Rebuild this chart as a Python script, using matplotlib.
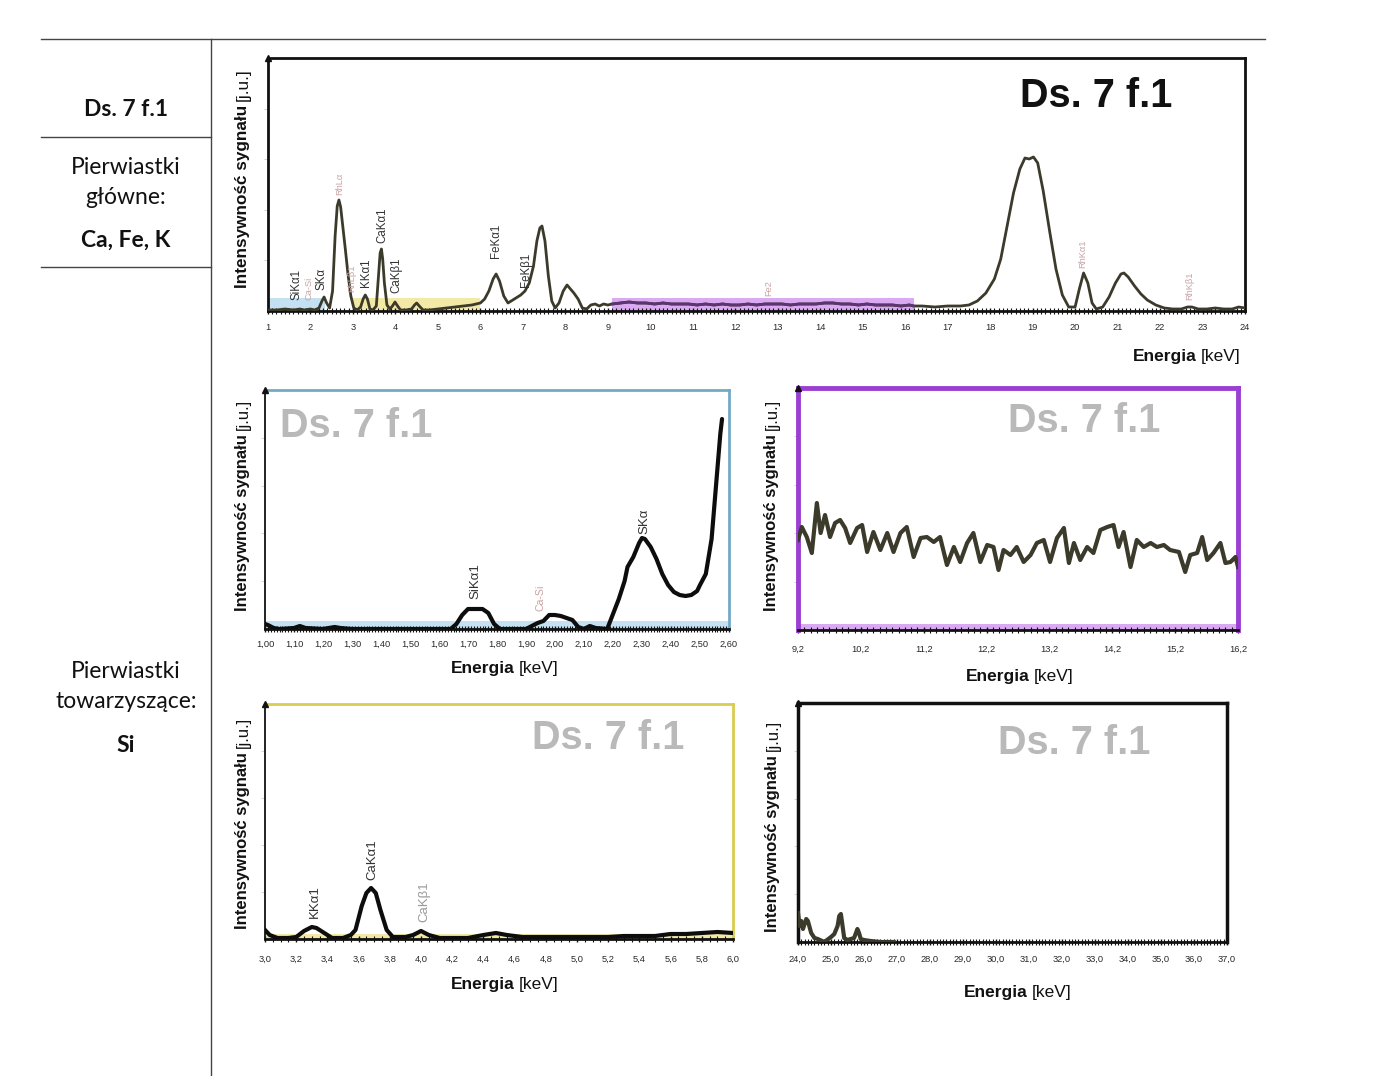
import numpy as np
import matplotlib
matplotlib.use("Agg")
import matplotlib.pyplot as plt
from matplotlib.lines import Line2D
from matplotlib.ticker import MultipleLocator, NullFormatter

# ---------------- data ----------------
# main spectrum 1-24 keV (intensity in arbitrary units)
top_E = [1.0, 1.2, 1.4, 1.6, 1.75, 1.85, 2.0, 2.1, 2.2, 2.27, 2.32, 2.38, 2.45, 2.52, 2.58, 2.63,
         2.67, 2.71, 2.76, 2.82, 2.88, 2.95, 3.02, 3.1, 3.18, 3.24, 3.29, 3.34, 3.4, 3.47, 3.55,
         3.6, 3.64, 3.67, 3.7, 3.74, 3.8, 3.87, 3.93, 3.99, 4.05, 4.12, 4.25, 4.38, 4.45, 4.5,
         4.56, 4.65, 4.8, 5.0, 5.2, 5.4, 5.6, 5.8, 6.0, 6.1, 6.2, 6.3, 6.37, 6.45, 6.55, 6.65,
         6.8, 6.95, 7.05, 7.15, 7.25, 7.33, 7.4, 7.45, 7.52, 7.6, 7.68, 7.76, 7.85, 7.95, 8.04,
         8.12, 8.2, 8.3, 8.4, 8.5, 8.6, 8.7, 8.8, 8.9, 9.0,
         9.1, 9.3, 9.5, 9.7, 9.9, 10.1, 10.3, 10.5, 10.7, 10.9, 11.1, 11.3, 11.5, 11.7, 11.9,
         12.1, 12.3, 12.5, 12.7, 12.9, 13.1, 13.3, 13.5, 13.7, 13.9, 14.1, 14.3, 14.5, 14.7,
         14.9, 15.1, 15.3, 15.5, 15.7, 15.9, 16.1, 16.2,
         16.4, 16.7, 17.0, 17.3, 17.5, 17.7, 17.9, 18.1, 18.25, 18.4, 18.55, 18.7, 18.82, 18.92,
         19.02, 19.12, 19.25, 19.4, 19.55, 19.7, 19.85, 20.0, 20.1, 20.2, 20.3, 20.4, 20.5, 20.65,
         20.8, 20.95, 21.08, 21.15, 21.25, 21.4, 21.55, 21.7, 21.9, 22.1, 22.3, 22.5, 22.65,
         22.75, 22.9, 23.1, 23.3, 23.5, 23.7, 23.85, 24.0]
top_I = [1, 1, 2, 1, 2, 1, 2, 1, 3, 10, 14, 8, 3, 20, 75, 105,
         111, 104, 85, 62, 38, 15, 3, 1, 4, 12, 16, 12, 2, 1, 5,
         35, 58, 62, 52, 28, 6, 2, 5, 9, 5, 1, 1, 2, 6, 8,
         5, 1, 1, 2, 3, 4, 5, 6, 8, 12, 20, 32, 37, 30, 15, 8,
         12, 16, 20, 28, 45, 70, 83, 85, 70, 35, 10, 3, 8, 20, 26,
         22, 18, 12, 3, 2, 6, 7, 5, 7, 6,
         7, 8, 9, 8, 8, 7, 8, 7, 7, 7, 6, 7, 6, 7, 6,
         6, 7, 6, 7, 7, 7, 6, 7, 7, 7, 8, 8, 7, 7,
         6, 7, 6, 6, 6, 5, 6, 5,
         5, 4, 5, 5, 6, 10, 18, 32, 52, 85, 118, 142, 153, 152,
         154, 148, 120, 80, 42, 16, 4, 4, 22, 38, 28, 8, 2, 4,
         14, 28, 37, 38, 34, 25, 17, 11, 6, 3, 2, 2, 4,
         4, 2, 2, 3, 2, 2, 4, 3]
top_ticks = list(range(1, 25))
top_labels = ["SiKα1", "Ca-Si", "SKα", "RhLα", "RhLβ1", "KKα1", "CaKα1", "CaKβ1",
              "FeKα1", "FeKβ1", "Fe2", "RhKα1", "RhKβ1"]
top_label_E = [1.66, 1.97, 2.27, 2.70, 2.96, 3.31, 3.69, 4.02, 6.37, 7.08, 12.8, 20.18, 22.7]
top_label_y = [11, 11, 21, 116, 19, 24, 68, 18, 53, 24, 15, 43, 11]
top_label_kind = ["el", "rh", "el", "rh", "rh", "el", "el", "el", "el", "el", "rh", "rh", "rh"]
band_ranges = [(1.0, 2.35), (3.0, 6.0), (9.1, 16.2)]

# zoom 1.00-2.60 keV
blue_E = [1.00, 1.01, 1.03, 1.05, 1.10, 1.12, 1.14, 1.20, 1.24, 1.26, 1.30, 1.50, 1.64, 1.66,
          1.68, 1.70, 1.75, 1.77, 1.79, 1.81, 1.90, 1.92, 1.94, 1.96, 1.98, 2.00, 2.02, 2.04,
          2.06, 2.08, 2.10, 2.12, 2.14, 2.18, 2.20, 2.22, 2.24, 2.25, 2.27, 2.29, 2.30, 2.31,
          2.33, 2.35, 2.37, 2.39, 2.41, 2.43, 2.45, 2.47, 2.49, 2.50, 2.52, 2.54, 2.55, 2.56,
          2.57, 2.576]
blue_I = [5, 4, 1, 0, 1, 3, 1, 0, 2, 1, 0, 0, 0, 5,
          14, 20, 20, 16, 5, 0, 0, 3, 6, 8, 14, 14, 13, 11,
          9, 2, 0, 3, 1, 0, 15, 30, 48, 62, 72, 86, 91, 90,
          82, 70, 55, 44, 37, 34, 33, 34, 38, 44, 55, 90, 125, 160,
          195, 210]
blue_ticks = [1.0, 1.1, 1.2, 1.3, 1.4, 1.5, 1.6, 1.7, 1.8, 1.9, 2.0, 2.1, 2.2, 2.3, 2.4, 2.5, 2.6]
blue_labels = ["SiKα1", "Ca-Si", "SKα"]
blue_label_E = [1.727, 1.949, 2.309]
blue_label_y = [30, 18, 95]
blue_label_kind = ["el", "rh", "el"]

# zoom 9.2-16.2 keV
purple_E = [9.20, 9.26, 9.34, 9.42, 9.50, 9.56, 9.63, 9.71, 9.79, 9.87, 9.95, 10.03, 10.14,
            10.22, 10.30, 10.40, 10.51, 10.62, 10.72, 10.83, 10.93, 11.04, 11.15, 11.25, 11.36,
            11.46, 11.57, 11.68, 11.78, 11.89, 11.99, 12.10, 12.21, 12.31, 12.39, 12.47, 12.58,
            12.68, 12.79, 12.90, 13.00, 13.11, 13.21, 13.32, 13.43, 13.51, 13.59, 13.69, 13.80,
            13.90, 14.01, 14.12, 14.22, 14.30, 14.38, 14.49, 14.59, 14.70, 14.81, 14.91, 15.02,
            15.12, 15.26, 15.36, 15.44, 15.55, 15.63, 15.71, 15.81, 15.92, 16.00, 16.08, 16.16,
            16.20]
purple_I = [90, 103, 93, 77, 127, 97, 115, 93, 107, 110, 102, 87, 102,
            105, 78, 98, 80, 97, 78, 97, 103, 73, 92, 93, 88,
            93, 65, 83, 68, 87, 97, 68, 85, 83, 60, 80, 75,
            83, 68, 75, 87, 90, 68, 92, 102, 67, 87, 70, 83,
            77, 100, 103, 105, 83, 98, 63, 90, 83, 87, 83, 85,
            80, 78, 58, 75, 77, 93, 70, 77, 87, 67, 68, 73,
            63]
purple_ticks = [9.2, 10.2, 11.2, 12.2, 13.2, 14.2, 15.2, 16.2]

# zoom 3.0-6.0 keV
yellow_E = [3.00, 3.03, 3.08, 3.15, 3.20, 3.25, 3.30, 3.33, 3.38, 3.43, 3.50, 3.55, 3.58, 3.62,
            3.65, 3.68, 3.71, 3.74, 3.78, 3.82, 3.90, 3.95, 4.00, 4.05, 4.12, 4.20, 4.30, 4.40,
            4.48, 4.55, 4.65, 4.80, 5.00, 5.20, 5.30, 5.50, 5.60, 5.70, 5.80, 5.90, 6.00]
yellow_I = [9, 4, 1, 1, 2, 8, 12, 11, 6, 1, 1, 4, 9, 33,
            46, 51, 46, 29, 9, 2, 2, 4, 8, 4, 1, 1, 1, 4,
            6, 4, 2, 2, 2, 2, 3, 3, 5, 5, 6, 7, 6]
yellow_ticks = [3.0, 3.2, 3.4, 3.6, 3.8, 4.0, 4.2, 4.4, 4.6, 4.8, 5.0, 5.2, 5.4, 5.6, 5.8, 6.0]
yellow_labels = ["KKα1", "CaKα1", "CaKβ1"]
yellow_label_E = [3.32, 3.69, 4.02]
yellow_label_y = [21, 59, 17]
yellow_label_kind = ["el", "el", "grey"]

# zoom 24-37 keV
black_E = [24.0, 24.05, 24.1, 24.15, 24.25, 24.3, 24.4, 24.5, 24.6, 24.8, 25.0, 25.1, 25.2,
           25.25, 25.3, 25.35, 25.4, 25.5, 25.7, 25.8, 25.85, 25.9, 26.0, 26.2, 26.5, 26.9]
black_I = [29, 16, 21, 13, 23, 21, 9, 4, 3, 0, 5, 8, 16,
           26, 28, 16, 4, 2, 4, 13, 9, 3, 2, 1, 0, 0]
black_ticks = list(range(24, 38))

# ---------------- styling ----------------
W, H = 1400, 1076
fig = plt.figure(figsize=(W / 100, H / 100), dpi=100)
SANS = ["Liberation Sans", "DejaVu Sans"]
LEFT = ["Lato", "DejaVu Sans"]
SPEC = "#3c3a2b"
PINK = "#c9a3a3"
GREY_T = "#b9b9b9"
kind_color = {"el": "#333333", "rh": PINK, "grey": "#9a9a9a"}


def ax_px(x0, y0, x1, y1):
    return fig.add_axes([x0 / W, 1 - y1 / H, (x1 - x0) / W, (y1 - y0) / H])


def hline(x0, x1, y, **kw):
    fig.add_artist(Line2D([x0 / W, x1 / W], [1 - y / H, 1 - y / H],
                          transform=fig.transFigure, **kw))


def vline(x, y0, y1, **kw):
    fig.add_artist(Line2D([x / W, x / W], [1 - y0 / H, 1 - y1 / H],
                          transform=fig.transFigure, **kw))


renderer = fig.canvas.get_renderer()


def two_part(x, y, bold, reg, size, rot=0, align="center"):
    t1 = fig.text(0, 0, bold, fontsize=size, fontweight="bold", family=SANS, color="#111111",
                  rotation=rot, ha="left" if rot == 0 else "center",
                  va="center" if rot == 0 else "bottom")
    t2 = fig.text(0, 0, reg, fontsize=size, family=SANS, color="#111111",
                  rotation=rot, ha="left" if rot == 0 else "center",
                  va="center" if rot == 0 else "bottom")
    b1 = t1.get_window_extent(renderer)
    b2 = t2.get_window_extent(renderer)
    gap = size * 0.33
    yf = H - y
    if rot == 0:
        total = b1.width + gap + b2.width
        start = x - total / 2 if align == "center" else x - total
        t1.set_position((start / W, yf / H))
        t2.set_position(((start + b1.width + gap) / W, yf / H))
    else:
        total = b1.height + gap + b2.height
        start = yf - total / 2
        t1.set_position((x / W, start / H))
        t2.set_position((x / W, (start + b1.height + gap) / H))


def style_axes(ax, xlim, ylim, ticks, fmt, frame_color, frame_lw, minor, left_color="#111111",
               pad=5):
    ax.set_xlim(*xlim)
    ax.set_ylim(*ylim)
    ax.set_xticks(ticks)
    ax.set_xticklabels([fmt(t) for t in ticks], fontsize=6.7, family=SANS, color="#2a2a2a")
    ax.xaxis.set_minor_locator(MultipleLocator(minor))
    ax.tick_params(axis="x", which="major", direction="inout", length=5, width=1.0,
                   color="#111111", pad=pad)
    ax.tick_params(axis="x", which="minor", direction="inout", length=4, width=0.8,
                   color="#111111")
    ax.set_yticks(np.linspace(ylim[0], ylim[1], 6)[1:-1])
    ax.yaxis.set_major_formatter(NullFormatter())
    ax.tick_params(axis="y", which="major", direction="out", length=3, width=0.6,
                   color="#cccccc")
    for s in ("top", "right"):
        ax.spines[s].set_color(frame_color)
        ax.spines[s].set_linewidth(frame_lw)
    ax.spines["left"].set_color(left_color)
    ax.spines["left"].set_linewidth(frame_lw if left_color == frame_color else 1.3)
    ax.spines["bottom"].set_color("#111111")
    ax.spines["bottom"].set_linewidth(2.0)
    ax.plot([0], [1], marker="^", ms=4, color="#111111", transform=ax.transAxes,
            clip_on=False, zorder=6)


def add_labels(ax, names, es, ys, kinds, size):
    for n, e, yv, k in zip(names, es, ys, kinds):
        fs = size if k != "rh" else size * 0.8
        ax.text(e, yv, n, rotation=90, ha="center", va="bottom", fontsize=fs,
                color=kind_color[k], family=SANS)


# ---------------- page frame / left column ----------------
hline(41, 1265, 39, color="#444444", lw=1.0)
vline(211, 39, 1076, color="#444444", lw=1.0)
hline(41, 211, 137, color="#444444", lw=1.0)
hline(41, 211, 267, color="#444444", lw=1.0)
LFS = 16.5
fig.text(126 / W, 1 - 110 / H, "Ds. 7 f.1", ha="center", va="center", fontsize=LFS,
         fontweight="bold", family=LEFT, color="#111111")
fig.text(126 / W, 1 - 167 / H, "Pierwiastki", ha="center", va="center", fontsize=LFS,
         family=LEFT, color="#111111")
fig.text(126 / W, 1 - 197 / H, "główne:", ha="center", va="center", fontsize=LFS,
         family=LEFT, color="#111111")
fig.text(126 / W, 1 - 240 / H, "Ca, Fe, K", ha="center", va="center", fontsize=LFS,
         fontweight="bold", family=LEFT, color="#111111")
fig.text(126 / W, 1 - 671 / H, "Pierwiastki", ha="center", va="center", fontsize=LFS,
         family=LEFT, color="#111111")
fig.text(126 / W, 1 - 702 / H, "towarzyszące:", ha="center", va="center", fontsize=LFS,
         family=LEFT, color="#111111")
fig.text(126 / W, 1 - 745 / H, "Si", ha="center", va="center", fontsize=LFS,
         fontweight="bold", family=LEFT, color="#111111")

# ---------------- top panel ----------------
ax0 = ax_px(268, 58, 1245, 311)
band_colors = ["#c3e1f2", "#f2e9a6", "#d9a9f2"]
for (a, b), c in zip(band_ranges, band_colors):
    ax0.axvspan(a, b, ymin=0, ymax=13 / 253, color=c, lw=0, zorder=1)
tE = np.array(top_E)
tI = np.array(top_I)
ax0.plot(tE, tI, color=SPEC, lw=2.0, zorder=3)
m = (tE >= band_ranges[2][0]) & (tE <= band_ranges[2][1])
ax0.plot(tE[m], tI[m], color="#5d3470", lw=2.0, zorder=4)
style_axes(ax0, (1, 24), (0, 253), top_ticks, lambda t: f"{t:d}", "#111111", 2.0, 0.1, pad=6)
add_labels(ax0, top_labels, top_label_E, top_label_y, top_label_kind, 8.3)
fig.text(1020 / W, 1 - 107 / H, "Ds. 7 f.1", fontsize=28.5, fontweight="bold", family=SANS,
         color="#111111", ha="left", va="baseline")
two_part(243, 178, "Intensywność sygnału", "[j.u.]", 12.3, rot=90)
two_part(1240, 357, "Energia", "[keV]", 12.5, align="right")


def comma(fmt):
    return lambda t: fmt.format(t).replace(".", ",")


# ---------------- blue panel ----------------
ax1 = ax_px(265, 390, 729, 629)
ax1.axvspan(1.0, 2.6, ymin=0, ymax=8 / 239, color="#c3e1f2", lw=0, zorder=1)
ax1.plot(blue_E, blue_I, color="#0d0d0d", lw=3.0, zorder=3, solid_capstyle="round")
style_axes(ax1, (1.0, 2.6), (0, 239), blue_ticks, comma("{:.2f}"), "#74a9c6", 2.0, 0.01, pad=5)
add_labels(ax1, blue_labels, blue_label_E, blue_label_y, blue_label_kind, 9.5)
fig.text(280 / W, 1 - 437 / H, "Ds. 7 f.1", fontsize=28.5, fontweight="bold", family=SANS,
         color=GREY_T, ha="left", va="baseline")
two_part(243, 505, "Intensywność sygnału", "[j.u.]", 12.0, rot=90)
two_part(505, 668, "Energia", "[keV]", 12.5)

# ---------------- purple panel ----------------
ax2 = ax_px(798, 388, 1238, 630)
ax2.axvspan(9.2, 16.2, ymin=0, ymax=6 / 242, color="#d9a9f2", lw=0, zorder=1)
ax2.plot(purple_E, purple_I, color=SPEC, lw=3.0, zorder=3)
style_axes(ax2, (9.2, 16.2), (0, 242), purple_ticks, comma("{:.1f}"), "#9a3fd1", 3.5, 0.1,
           left_color="#9a3fd1", pad=8)
fig.text(1008 / W, 1 - 432 / H, "Ds. 7 f.1", fontsize=28.5, fontweight="bold", family=SANS,
         color=GREY_T, ha="left", va="baseline")
two_part(772, 505, "Intensywność sygnału", "[j.u.]", 12.0, rot=90)
two_part(1020, 676, "Energia", "[keV]", 12.5)

# ---------------- yellow panel ----------------
ax3 = ax_px(265, 704, 733, 939)
ax3.axvspan(3.0, 6.0, ymin=0, ymax=5 / 235, color="#f2e9a6", lw=0, zorder=1)
ax3.plot(yellow_E, yellow_I, color="#0d0d0d", lw=3.0, zorder=3)
style_axes(ax3, (3.0, 6.0), (0, 235), yellow_ticks, comma("{:.1f}"), "#d9cc4f", 2.0, 0.05,
           pad=9)
add_labels(ax3, yellow_labels, yellow_label_E, yellow_label_y, yellow_label_kind, 9.5)
fig.text(532 / W, 1 - 749 / H, "Ds. 7 f.1", fontsize=28.5, fontweight="bold", family=SANS,
         color=GREY_T, ha="left", va="baseline")
two_part(243, 823, "Intensywność sygnału", "[j.u.]", 12.0, rot=90)
two_part(505, 984, "Energia", "[keV]", 12.5)

# ---------------- black panel ----------------
ax4 = ax_px(798, 703, 1227, 942)
ax4.plot(black_E, black_I, color=SPEC, lw=3.0, zorder=3)
style_axes(ax4, (24.0, 37.0), (0, 239), black_ticks, comma("{:.1f}"), "#111111", 2.5, 0.1,
           pad=7)
fig.text(998 / W, 1 - 754 / H, "Ds. 7 f.1", fontsize=28.5, fontweight="bold", family=SANS,
         color=GREY_T, ha="left", va="baseline")
two_part(773, 826, "Intensywność sygnału", "[j.u.]", 12.0, rot=90)
two_part(1018, 992, "Energia", "[keV]", 12.5)

fig.savefig("out.png", dpi=100)
